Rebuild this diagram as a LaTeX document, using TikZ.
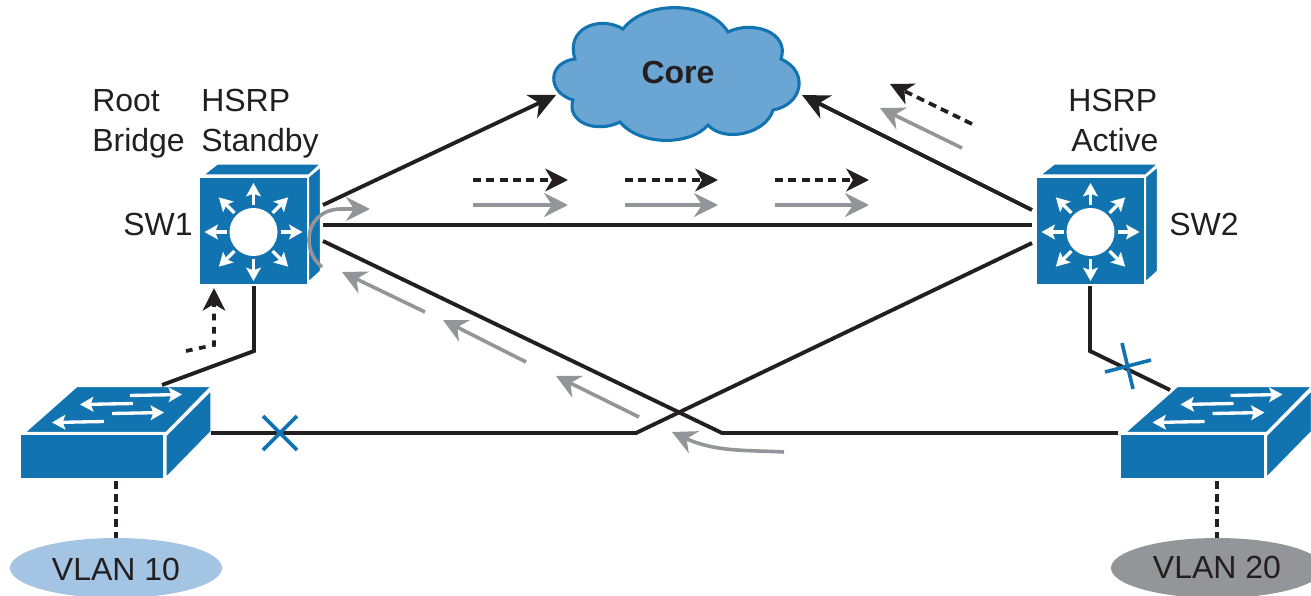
\documentclass[tikz,border=0pt]{standalone}
\usepackage{fontspec}
\setmainfont{Liberation Sans}
\usetikzlibrary{arrows.meta,shapes.geometric}
\definecolor{ciscoblue}{HTML}{1173B0}
\definecolor{cloudblue}{HTML}{6BA5D3}
\definecolor{vlanblue}{HTML}{A3C4E3}
\definecolor{vlangrey}{HTML}{939598}
\definecolor{ink}{HTML}{231F20}
\tikzset{
  lbl/.style={inner sep=0pt,anchor=base west,text=ink,font=\fontsize{24}{24}\selectfont},
  lblc/.style={inner sep=0pt,anchor=base,text=ink,font=\fontsize{24}{24}\selectfont},
  face/.style={fill=ciscoblue,draw=white,line width=0.8pt,line join=round},
  mlsfront/.style={face,rectangle,minimum width=81pt,minimum height=81pt,inner sep=0pt},
  l2front/.style={face,rectangle,minimum width=108pt,minimum height=32.5pt,inner sep=0pt},
  vlan/.style={ellipse,minimum width=159pt,minimum height=45pt,inner sep=0pt},
  link/.style={draw=ink,line width=2.9pt,line join=miter},
  blackhead/.style={-{Stealth[length=20pt,width=19pt,inset=6pt]}},
  solidflow/.style={link,blackhead},
  dashflow/.style={draw=ink,line width=2.8pt,dash pattern=on 6pt off 4pt,-{Stealth[length=17pt,width=17pt,inset=5pt]}},
  greyflow/.style={draw=vlangrey,line width=2.7pt,-{Stealth[length=18pt,width=18pt,inset=6pt]}},
  drop/.style={draw=ink,line width=3pt,dash pattern=on 6pt off 3.5pt},
  blocked/.style={draw=ciscoblue,line width=2.7pt},
  whitearrow/.style={draw=white,line width=2.5pt,-{Stealth[length=10pt,width=11pt,inset=2pt]}},
  mlsdetail/.pic={
    \fill[face] (-50,-56) -- (-36,-67) -- (67,-67) -- (55,-56) -- cycle;
    \fill[face] (55,-54) -- (67,-64) -- (67,40) -- (55,51) -- cycle;
    \fill[white] (0,1) circle[radius=24];
    \foreach \a in {0,45,...,315} \draw[whitearrow] ([shift={(0,1)}]\a:27) -- ([shift={(0,1)}]\a:49);
  },
  l2detail/.pic={
    \fill[face] (-67,-24) -- (-15,-70) -- (119,-70) -- (74,-24) -- cycle;
    \fill[face] (74,-21) -- (119,-66) -- (119,-25) -- (74,21) -- cycle;
    \draw[whitearrow] (38,-61) -- (90,-62);
    \draw[whitearrow] (41,-53) -- (-12,-52);
    \draw[whitearrow] (20,-43) -- (72,-44);
    \draw[whitearrow] (12,-35) -- (-40,-34);
  }
}
\begin{document}
\begin{tikzpicture}[x=0.75pt,y=-0.75pt]
\useasboundingbox (0,0) rectangle (1311,596);
\clip (0,0) rectangle (1311,596);
\fill[white] (0,0) rectangle (1311,596);

% port coordinates
\coordinate (a1) at (323,205);
\coordinate (a2) at (323,225);
\coordinate (a3) at (323,241);
\coordinate (b1) at (1032,210);
\coordinate (b2) at (1032,225);
\coordinate (b3) at (1032,243);
\coordinate (coreL) at (556,95);
\coordinate (coreR) at (802,95);
\coordinate (l2lE) at (211,433);
\coordinate (l2rW) at (1118,433);
\coordinate (l2lT) at (162,385);
\coordinate (l2rT) at (1170,390);

% cloud
\draw[fill=cloudblue,draw=ciscoblue,line width=2.3pt]
  (623,29) .. controls (645,0) and (708,0) .. (728,32)
  .. controls (752,20) and (790,32) .. (781,59)
  .. controls (810,72) and (802,105) .. (773,110)
  .. controls (766,134) and (724,143) .. (708,125)
  .. controls (690,146) and (640,146) .. (620,122)
  .. controls (596,134) and (566,122) .. (573,100)
  .. controls (546,92) and (548,62) .. (575,59)
  .. controls (565,28) and (600,15) .. (623,29) -- cycle;
\node[lblc,font=\fontsize{24}{24}\selectfont\bfseries] (core) at (678,83) {Core};

% switches (front faces)
\node[mlsfront] (sw1) at (253.5,231) {};
\node[mlsfront] (sw2) at (1090.5,231) {};
\node[l2front] (l2l) at (92,456.5) {};
\node[l2front] (l2r) at (1192.5,456.5) {};
\pic at (sw1) {mlsdetail};
\pic at (sw2) {mlsdetail};
\pic at (l2l) {l2detail};
\pic at (l2r) {l2detail};

% VLAN clouds
\node[vlan,fill=vlanblue] (v10) at (116,568) {};
\node[vlan,fill=vlangrey] (v20) at (1217,568) {};
\node[lblc] (v10t) at (116,580) {VLAN 10};
\node[lblc] (v20t) at (1217,578) {VLAN 20};

% links
\draw[solidflow] (a1) -- (coreL);
\draw[solidflow] (b1) -- (coreR);
\draw[link] (a2) -- (b2);
\draw[link] (a3) -- (722,433) -- (l2rW);
\draw[link] (l2lE) -- (636,433) -- (b3);
\draw[link] (254,286) -- (254,351) -- (l2lT);
\draw[link] (1090,286) -- (1090,351) -- (l2rT);
\draw[drop] (116,481) -- (v10.north);
\draw[drop] (1217,481) -- (v20.north);

% blocked ports
\draw[blocked] (263,416) -- (297,450);
\draw[blocked] (297,416) -- (263,450);
\draw[blocked] (1122,343) -- (1133,389);
\draw[blocked] (1105,372) -- (1151,360);

% traffic flows
\draw[dashflow] (473,180) -- (568,180);
\draw[dashflow] (625,180) -- (718,180);
\draw[dashflow] (775,180) -- (869,180);
\draw[greyflow] (473,205) -- (568,205);
\draw[greyflow] (625,205) -- (718,205);
\draw[greyflow] (775,205) -- (869,205);
\draw[dashflow] (972,124) -- (890,84);
\draw[greyflow] (962,148) -- (880,108);
\draw[greyflow] (639,417) -- (556,376);
\draw[greyflow] (526,362) -- (443,320);
\draw[greyflow] (425,312) -- (342,272);
\draw[greyflow] (784,452) .. controls (745,450) and (715,452) .. (672,432);
\draw[greyflow] (322,267) .. controls (300,250) and (305,208) .. (343,209) -- (370,209);
\draw[dashflow,dash pattern=on 5pt off 5pt] (186,351) -- (214,345) -- (214,288);

% labels
\node[lbl] (t1) at (92,111) {Root};
\node[lbl] (t2) at (92,151) {Bridge};
\node[lbl] (t3) at (201,111) {HSRP};
\node[lbl] (t4) at (201,151) {Standby};
\node[lbl] (t5) at (1068,111) {HSRP};
\node[lbl] (t6) at (1071,151) {Active};
\node[lbl] (t7) at (123,235) {SW1};
\node[lbl] (t8) at (1169,235) {SW2};
\end{tikzpicture}
\end{document}
